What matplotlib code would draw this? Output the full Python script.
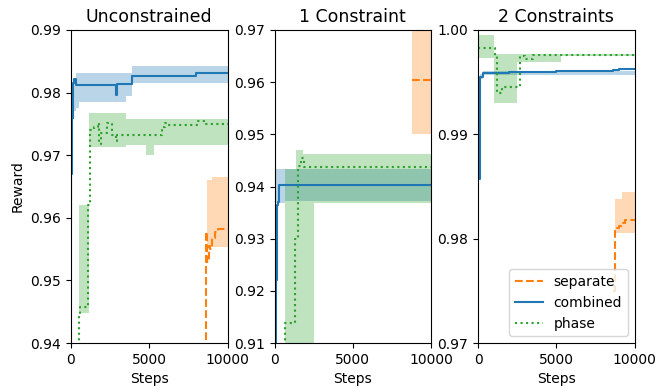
import numpy as np
import matplotlib
matplotlib.use("Agg")
import matplotlib.pyplot as plt

nan = np.nan

# ---- Unconstrained ----
u_sep_x = [0, 8600, 8650, 8700, 8800, 8900, 9000, 9200, 9400, 10000]
u_sep_y = [nan, 0.9405, 0.9578, 0.9530, 0.9555, 0.9550, 0.9568, 0.9578, 0.9582, 0.9582]
u_sep_bx = [0, 8700, 9000, 10000]
u_sep_lo = [nan, 0.9553, 0.9553, 0.9553]
u_sep_hi = [nan, 0.9660, 0.9665, 0.9665]

u_com_x = [0, 20, 50, 120, 150, 200, 350, 2850, 2950, 3900, 8000, 10000]
u_com_y = [0.9595, 0.9670, 0.9765, 0.9760, 0.9815, 0.9822, 0.9812, 0.9796, 0.9814, 0.9827, 0.9832, 0.9832]
u_com_bx = [0, 150, 300, 500, 3500, 3900, 10000]
u_com_lo = [nan, 0.9770, 0.9775, 0.9785, 0.9795, 0.9815, 0.9815]
u_com_hi = [nan, 0.9822, 0.9832, 0.9832, 0.9832, 0.9842, 0.9842]

u_pha_x = [0, 500, 600, 1100, 1200, 1500, 1700, 1800, 1900, 2300, 2600, 2850, 2950,
           5800, 6000, 6200, 8100, 8600, 10000]
u_pha_y = [0.9300, 0.9445, 0.9458, 0.9620, 0.9740, 0.9745, 0.9752, 0.9718, 0.9735, 0.9752,
           0.9732, 0.9722, 0.9732, 0.9745, 0.9752, 0.9748, 0.9755, 0.9750, 0.9750]
u_pha_bx = [0, 500, 1150, 3500, 4800, 5300, 10000]
u_pha_lo = [nan, 0.9448, 0.9713, 0.9717, 0.9700, 0.9717, 0.9717]
u_pha_hi = [nan, 0.9620, 0.9768, 0.9758, 0.9758, 0.9758, 0.9758]

# ---- 1 Constraint ----
c1_sep_x = [0, 8800, 10000]
c1_sep_y = [nan, 0.9605, 0.9605]
c1_sep_bx = [0, 8800, 10000]
c1_sep_lo = [nan, 0.9500, 0.9500]
c1_sep_hi = [nan, 0.9750, 0.9750]

c1_com_x = [0, 100, 150, 200, 300, 10000]
c1_com_y = [0.9100, 0.9220, 0.9365, 0.9370, 0.9403, 0.9403]
c1_com_bx = [0, 120, 700, 10000]
c1_com_lo = [nan, 0.9368, 0.9373, 0.9373]
c1_com_hi = [nan, 0.9433, 0.9433, 0.9433]

c1_pha_x = [0, 700, 1200, 1300, 1500, 1700, 1900, 10000]
c1_pha_y = [0.9000, 0.9138, 0.9140, 0.9300, 0.9440, 0.9455, 0.9437, 0.9437]
c1_pha_bx = [0, 700, 1400, 1800, 2500, 10000]
c1_pha_lo = [nan, 0.9050, 0.9050, 0.9050, 0.9369, 0.9369]
c1_pha_hi = [nan, 0.9433, 0.9470, 0.9462, 0.9462, 0.9462]

# ---- 2 Constraints ----
c2_sep_x = [0, 8600, 8750, 9000, 9100, 9400, 10000]
c2_sep_y = [nan, 0.9750, 0.9810, 0.9812, 0.9815, 0.9818, 0.9818]
c2_sep_bx = [0, 8750, 9200, 10000]
c2_sep_lo = [nan, 0.9805, 0.9805, 0.9805]
c2_sep_hi = [nan, 0.9838, 0.9845, 0.9845]

c2_com_x = [0, 100, 300, 2000, 5000, 8600, 9000, 10000]
c2_com_y = [0.9857, 0.9955, 0.9959, 0.9960, 0.9961, 0.9962, 0.9963, 0.9963]
c2_com_bx = [0, 100, 300, 10000]
c2_com_lo = [nan, 0.9953, 0.9957, 0.9961]
c2_com_hi = [nan, 0.9958, 0.9961, 0.9964]

c2_pha_x = [0, 1000, 1100, 1200, 1500, 2500, 2700, 3000, 3500, 10000]
c2_pha_y = [0.9983, 0.9983, 0.9975, 0.9940, 0.9945, 0.9945, 0.9975, 0.9972, 0.9976, 0.9976]
c2_pha_bx = [0, 1000, 2500, 5300, 10000]
c2_pha_lo = [0.9973, 0.9930, 0.9969, 0.9975, 0.9975]
c2_pha_hi = [0.9995, 0.9977, 0.9977, 0.9977, 0.9977]

panels = [
    ("Unconstrained", (0.94, 0.99), [0.94, 0.95, 0.96, 0.97, 0.98, 0.99],
     (u_sep_x, u_sep_y, u_sep_bx, u_sep_lo, u_sep_hi),
     (u_com_x, u_com_y, u_com_bx, u_com_lo, u_com_hi),
     (u_pha_x, u_pha_y, u_pha_bx, u_pha_lo, u_pha_hi)),
    ("1 Constraint", (0.91, 0.97), [0.91, 0.92, 0.93, 0.94, 0.95, 0.96, 0.97],
     (c1_sep_x, c1_sep_y, c1_sep_bx, c1_sep_lo, c1_sep_hi),
     (c1_com_x, c1_com_y, c1_com_bx, c1_com_lo, c1_com_hi),
     (c1_pha_x, c1_pha_y, c1_pha_bx, c1_pha_lo, c1_pha_hi)),
    ("2 Constraints", (0.97, 1.00), [0.97, 0.98, 0.99, 1.00],
     (c2_sep_x, c2_sep_y, c2_sep_bx, c2_sep_lo, c2_sep_hi),
     (c2_com_x, c2_com_y, c2_com_bx, c2_com_lo, c2_com_hi),
     (c2_pha_x, c2_pha_y, c2_pha_bx, c2_pha_lo, c2_pha_hi)),
]

styles = [("separate", "C1", "--"), ("combined", "C0", "-"), ("phase", "C2", ":")]

fig, axes = plt.subplots(1, 3, figsize=(6.57, 3.89), dpi=100)
fig.subplots_adjust(left=0.108, right=0.966, bottom=0.118, top=0.923, wspace=0.30)

for ax, (title, ylim, yticks, *series) in zip(axes, panels):
    for (label, col, ls), (x, y, bx, lo, hi) in zip(styles, series):
        ax.fill_between(bx, lo, hi, step="post", color=col, alpha=0.3, linewidth=0)
        ax.plot(x, y, drawstyle="steps-post", color=col, linestyle=ls, linewidth=1.5, label=label)
    ax.set_xlim(0, 10000)
    ax.set_ylim(*ylim)
    ax.set_yticks(yticks)
    ax.set_yticklabels(["%.2f" % t for t in yticks])
    ax.set_xticks([0, 5000, 10000])
    ax.set_title(title, fontsize=12.5)
    ax.set_xlabel("Steps")

axes[0].set_ylabel("Reward")
axes[2].legend(loc="lower right")

fig.savefig("out.png")
